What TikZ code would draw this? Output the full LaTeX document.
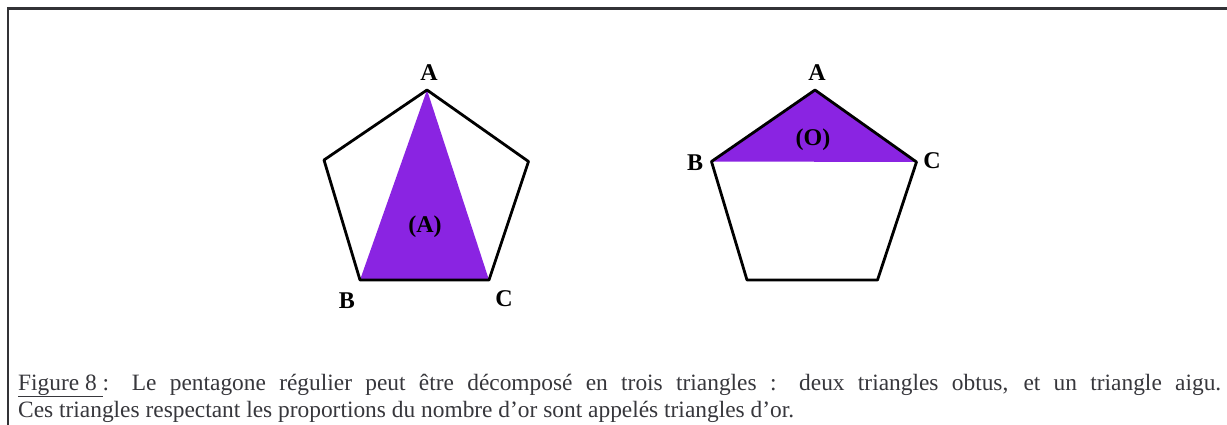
\documentclass[tikz,border=0pt]{standalone}
\usepackage{fontspec}
\setmainfont{Liberation Serif}
\definecolor{violetfill}{RGB}{138,36,226}
\definecolor{framegray}{RGB}{50,50,54}
\definecolor{captiongray}{RGB}{55,55,60}
\begin{document}
\begin{tikzpicture}[x=1pt,y=-1pt,
  edge/.style={draw=black,line width=2.8pt,line join=round},
  tri/.style={fill=violetfill},
  lab/.style={font=\fontsize{24}{24}\selectfont\bfseries,inner sep=0pt},
  capline/.style={font=\fontsize{23.4}{24}\selectfont,text=captiongray,inner sep=0pt,anchor=base west}]
\useasboundingbox (0,0) rectangle (1227,425);
\fill[white] (0,0) rectangle (1227,425);
% frame (top and left edges visible)
\draw[framegray,line width=2.2pt] (8.3,426) -- (8.3,8.5) -- (1228,8.5);
% pentagon 1
\coordinate (p1a) at (427,90);
\coordinate (p1r) at (528.5,161.5);
\coordinate (p1c) at (489,280);
\coordinate (p1b) at (360,280);
\coordinate (p1l) at (324,160);
\fill[tri] (p1a) -- (p1c) -- (p1b) -- cycle;
\draw[edge] (p1a) -- (p1r) -- (p1c) -- (p1b) -- (p1l) -- cycle;
\node[lab] (la1) at (429,72.5) {A};
\node[lab] (lb1) at (347,301) {B};
\node[lab] (lc1) at (504,299) {C};
\node[lab] (tA) at (425,227) {(A)};
% pentagon 2
\coordinate (p2a) at (815,90);
\coordinate (p2c) at (916.5,162);
\coordinate (p2r) at (877.5,280);
\coordinate (p2l) at (747,280);
\coordinate (p2b) at (711.5,161.5);
\fill[tri] (p2a) -- (p2c) -- (p2b) -- cycle;
\draw[edge] (p2a) -- (p2c) -- (p2r) -- (p2l) -- (p2b) -- cycle;
\node[lab] (la2) at (817,72.5) {A};
\node[lab] (lb2) at (695,163) {B};
\node[lab] (lc2) at (932,161) {C};
\node[lab] (tO) at (813,140) {(O)};
% caption
\node[capline] (cap1) at (18,390) {\makebox[1203pt][s]{\underline{Figure 8 }: Le pentagone régulier peut être décomposé en trois triangles : deux triangles obtus, et un triangle aigu.}};
\node[capline] (cap2) at (18,417.5) {Ces triangles respectant les proportions du nombre d’or sont appelés triangles d’or.};
\end{tikzpicture}
\end{document}
